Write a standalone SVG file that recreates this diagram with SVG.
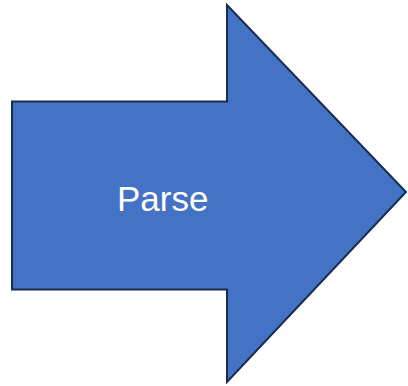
<svg xmlns="http://www.w3.org/2000/svg" width="408" height="386" viewBox="0 0 408 386">
  <style>
    .arrow { fill: #4472C4; stroke: #172C51; stroke-width: 2; stroke-linejoin: miter; }
    .label { font-family: "Liberation Sans", Arial, sans-serif; font-size: 35px; fill: #FFFFFF; }
  </style>
  <rect width="408" height="386" fill="#FFFFFF"/>
  <g id="parse">
    <polygon class="arrow" points="12,101.5 227,101.5 227,5 406,192 227,382 227,289.5 12,289.5"/>
    <text class="label" x="117" y="210.5">Parse</text>
  </g>
  <g id="connectors"></g>
</svg>
